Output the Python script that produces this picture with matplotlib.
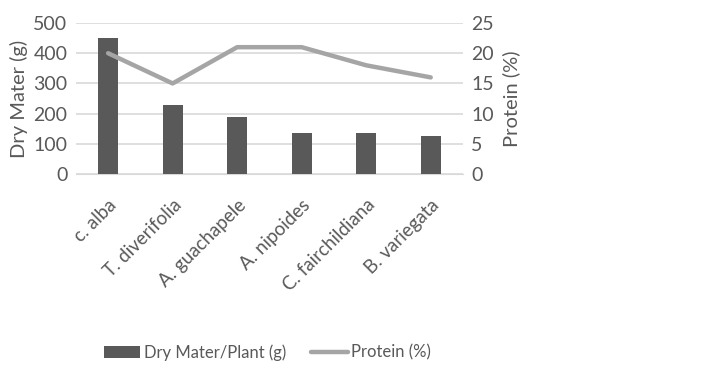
import matplotlib
matplotlib.use("Agg")
import matplotlib.pyplot as plt

plt.rcParams['font.family'] = ['Lato', 'DejaVu Sans']

species = ["c. alba", "T. diverifolia", "A. guachapele", "A. nipoides",
           "C. fairchildiana", "B. variegata"]
dry_matter = [450, 230, 190, 135, 135, 125]
protein = [20, 15, 21, 21, 18, 16]

txt = "#595959"

fig = plt.figure(figsize=(7.09, 3.65), dpi=100)
ax = fig.add_axes([0.107, 0.523, 0.546, 0.414])
ax2 = ax.twinx()

x = range(len(species))
bars = ax.bar(x, dry_matter, width=0.31, color="#595959", label="Dry Mater/Plant (g)", zorder=3)
line, = ax2.plot(x, protein, color="#A5A5A5", linewidth=3.2, label="Protein (%)",
                 solid_capstyle="round", zorder=4)

ax.set_xlim(-0.5, len(species) - 0.5)
ax.set_ylim(0, 500)
ax.set_yticks(range(0, 501, 100))
ax2.set_ylim(0, 25)
ax2.set_yticks(range(0, 26, 5))

ax.grid(axis="y", color="#D9D9D9", linewidth=1.2, zorder=0)
ax.set_axisbelow(True)
for a in (ax, ax2):
    for s in a.spines.values():
        s.set_visible(False)
    a.tick_params(length=0, labelsize=14, colors=txt, pad=6)
ax.spines["bottom"].set_visible(True)
ax.spines["bottom"].set_color("#D9D9D9")

ax.set_xticks(list(x))
ax.set_xticklabels(species, rotation=45, ha="right", rotation_mode="anchor", fontsize=13.5)
ax.tick_params(axis="x", pad=16)

ax.set_ylabel("Dry Mater (g)", fontsize=14.5, color=txt, labelpad=4)
ax2.set_ylabel("Protein (%)", fontsize=14.5, color=txt, labelpad=6)

fig.legend([bars, line], ["Dry Mater/Plant (g)", "Protein (%)"], loc="center",
           bbox_to_anchor=(0.377, 0.035), ncol=2, frameon=False, fontsize=12,
           labelcolor=txt, handlelength=2.2, handletextpad=0.2, columnspacing=1.5)

fig.savefig("out.png", dpi=100)
